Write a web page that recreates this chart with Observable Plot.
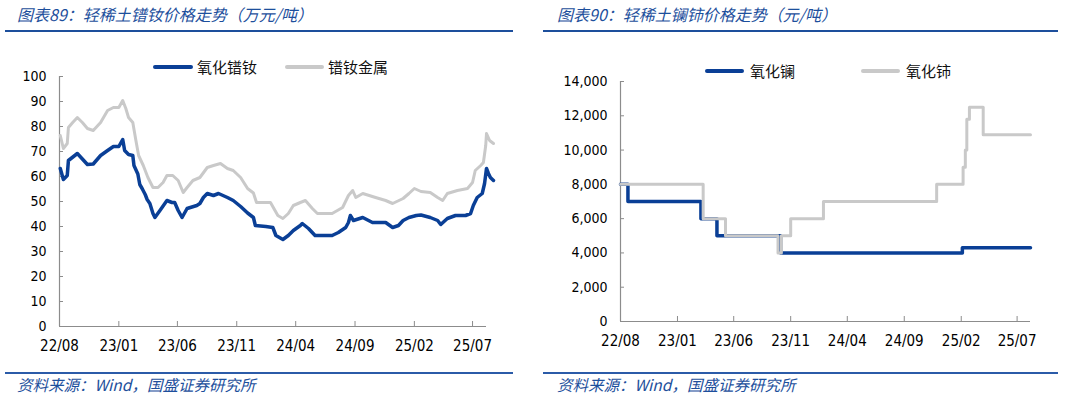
<!DOCTYPE html>
<html>
<head>
<meta charset="utf-8">
<script src="https://cdn.jsdelivr.net/npm/d3@7"></script>
<script src="https://cdn.jsdelivr.net/npm/@observablehq/plot@0.6"></script>
<style>
  html, body { margin: 0; padding: 0; background: #fff; }
  #page { position: relative; width: 1065px; height: 398px; overflow: hidden; background: #fff; }
  .title, .source { position: absolute; font-family: "Noto Sans CJK SC", sans-serif; font-style: italic; color: #1d4f9c; white-space: nowrap; line-height: 1; }
  .title { font-size: 16px; top: 6px; }
  .source { font-size: 15.5px; top: 377px; }
  .rule { position: absolute; background: #1d4f9c; }
  .plot { position: absolute; top: 40px; }
  .leg { position: absolute; font-family: "Noto Sans CJK SC", sans-serif; font-size: 15px; color: #111; white-space: nowrap; line-height: 1; }
  .sw { position: absolute; height: 4px; border-radius: 2px; }
</style>
</head>
<body>
<div id="page"></div>
<script>
// ---------- Data: left chart (万元/吨) ----------
const oxideDates = ["2022-08-03","2022-08-11","2022-08-21","2022-08-24","2022-09-16","2022-09-29","2022-10-12","2022-10-27","2022-11-15","2022-12-03","2022-12-18","2023-01-01","2023-01-11","2023-01-16","2023-01-26","2023-02-06","2023-02-09","2023-02-19","2023-02-24","2023-03-02","2023-03-10","2023-03-15","2023-03-22","2023-03-30","2023-04-04","2023-04-17","2023-05-05","2023-05-18","2023-05-25","2023-06-03","2023-06-13","2023-06-26","2023-07-21","2023-07-29","2023-08-07","2023-08-17","2023-09-02","2023-09-15","2023-10-08","2023-10-23","2023-11-11","2023-11-29","2023-12-14","2023-12-19","2024-01-15","2024-02-02","2024-02-10","2024-02-28","2024-03-13","2024-03-26","2024-04-13","2024-04-18","2024-05-04","2024-05-21","2024-06-16","2024-07-04","2024-07-20","2024-08-08","2024-08-15","2024-08-20","2024-08-28","2024-09-21","2024-10-16","2024-11-19","2024-12-07","2024-12-22","2025-01-03","2025-01-18","2025-02-06","2025-02-18","2025-03-14","2025-04-02","2025-04-10","2025-04-27","2025-05-18","2025-06-13","2025-06-26","2025-07-03","2025-07-13","2025-07-26","2025-08-01","2025-08-06","2025-08-11","2025-08-16","2025-08-24"];
const oxideValues = [63.2,58.8,60.4,66.4,69.2,67,64.8,65,68.4,70.4,72,72,74.8,70.4,68.8,68.4,64.4,61,56.8,55.2,52.8,50.8,49.2,45.2,43.6,46.4,50.4,49.6,49.6,46.4,43.6,47.2,48.4,49.2,51.6,53.2,52.4,53.2,51.6,50.4,48,45.4,43.6,40.4,40,39.6,36.4,34.8,36.4,38.4,40.4,41.2,39.2,36.4,36.4,36.4,37.6,39.6,41.6,44.4,42.4,43.6,41.6,41.6,39.6,40.4,42.4,43.6,44.4,44.6,43.6,42.4,40.8,43.2,44.4,44.4,45.2,48.4,51.6,53.2,57.2,63.2,61.2,59.6,58.4];

const metalDates = ["2022-08-03","2022-08-11","2022-08-21","2022-08-24","2022-09-04","2022-09-16","2022-09-29","2022-10-12","2022-10-27","2022-11-15","2022-12-03","2022-12-18","2023-01-01","2023-01-11","2023-01-19","2023-01-26","2023-02-06","2023-02-14","2023-02-21","2023-03-05","2023-03-17","2023-03-30","2023-04-12","2023-04-25","2023-05-05","2023-05-20","2023-06-03","2023-06-16","2023-06-26","2023-07-11","2023-07-29","2023-08-17","2023-09-02","2023-09-20","2023-10-08","2023-10-23","2023-11-11","2023-11-29","2023-12-14","2023-12-22","2024-01-27","2024-02-15","2024-02-28","2024-03-13","2024-03-26","2024-04-13","2024-04-26","2024-05-14","2024-05-27","2024-07-04","2024-07-31","2024-08-15","2024-08-26","2024-09-03","2024-09-21","2024-10-24","2024-11-19","2024-12-07","2025-01-03","2025-01-18","2025-02-01","2025-02-18","2025-03-14","2025-04-02","2025-04-15","2025-04-27","2025-05-23","2025-06-18","2025-07-01","2025-07-08","2025-07-22","2025-07-29","2025-08-04","2025-08-06","2025-08-14","2025-08-24"];
const metalValues = [76.4,71.2,73.2,79.6,81.6,83.6,81.6,79.2,78.4,81.6,86.4,87.6,87.6,90.4,87.2,83.6,81.6,74.4,68.4,64.4,59.6,55.6,55.6,57.6,60.4,60.4,58.4,53.6,55.6,58.4,59.6,63.6,64.4,65.2,63.2,62.4,59.6,55.2,53.4,49.6,49.6,44.4,43.2,45.2,48.4,49.6,50.4,47.2,45.2,45.2,47.6,52.4,54.4,51.6,53.2,51.6,50.4,49.2,51.2,53.2,55.2,54,53.6,51.6,50.4,53.2,54.4,55.2,57.6,62.4,64.4,65.6,72.4,77.2,74.4,73.2];

const leftYTicks = [0,10,20,30,40,50,60,70,80,90,100];
const xTickDates = ["2022-08-01","2023-01-01","2023-06-01","2023-11-01","2024-04-01","2024-09-01","2025-02-01","2025-07-01"];

// ---------- Data: right chart (元/吨) ----------
const lanthanumDates = ["2022-08-01","2022-08-21","2023-03-05","2023-04-17","2023-10-05","2025-02-04","2025-08-06"];
const lanthanumValues = [8000,7000,6000,5000,4000,4300,4300];
const ceriumDates = ["2022-08-01","2023-03-11","2023-05-10","2023-09-28","2023-10-07","2023-11-01","2024-01-28","2024-11-27","2025-02-06","2025-02-12","2025-02-16","2025-02-23","2025-04-01","2025-08-06"];
const ceriumValues = [8000,6000,5000,4000,5000,6000,7000,8000,9000,10000,11800,12500,10900,10900];
const rightYTicks = [0,2000,4000,6000,8000,10000,12000,14000];

const names = {
  leftTitle: "图表89：轻稀土镨钕价格走势（万元/吨）",
  rightTitle: "图表90：轻稀土镧铈价格走势（元/吨）",
  source: "资料来源：Wind，国盛证券研究所",
  oxide: "氧化镨钕", metal: "镨钕金属", la: "氧化镧", ce: "氧化铈"
};

const BLUE = "#0a3f96", GRAY = "#c9c9c9", AXIS = "#8c8c8c";
const parse = d3.utcParse("%Y-%m-%d");
const fmtX = d3.utcFormat("%y/%m");
const page = document.getElementById("page");

function el(cls, style, text) {
  const d = document.createElement("div");
  d.className = cls;
  Object.assign(d.style, style);
  if (text != null) d.textContent = text;
  page.appendChild(d);
  return d;
}

function makeChart({series, yTicks, yFmt, yMax, xEnd, curve, left, marginLeft, marginRight, marginTop, marginBottom}) {
  const x0 = parse("2022-08-01");
  const rows = [];
  series.forEach(s => s.dates.forEach((d, i) => rows.push({date: parse(d), value: s.values[i], key: s.key})));
  const plot = Plot.plot({
    width: 530, height: 330,
    marginLeft, marginRight, marginTop, marginBottom,
    style: {fontFamily: "'DejaVu Sans Condensed', 'DejaVu Sans', sans-serif", fontSize: "14px", color: "#000", background: "transparent", overflow: "visible"},
    x: {type: "utc", domain: [x0, parse(xEnd)], label: null},
    y: {domain: [0, yMax], label: null},
    marks: [
      Plot.axisY({ticks: yTicks, tickSize: 0, tickPadding: 13, tickFormat: yFmt, fontSize: 14, label: null}),
      Plot.axisY({ticks: yTicks, tickSize: -4, tickFormat: () => "", stroke: AXIS, label: null}),
      Plot.axisX({ticks: xTickDates.map(parse), tickSize: 0, tickPadding: 14, tickFormat: fmtX, fontSize: 15, label: null}),
      Plot.axisX({ticks: xTickDates.map(parse), tickSize: -5, tickFormat: () => "", stroke: AXIS, label: null}),
      Plot.ruleX([x0], {stroke: AXIS, strokeWidth: 1.2}),
      Plot.ruleY([0], {stroke: AXIS, strokeWidth: 1.2}),
      ...series.map(s => Plot.line(rows.filter(r => r.key === s.key), {
        x: "date", y: "value", stroke: s.color, strokeWidth: s.width, curve,
        strokeLinejoin: "round", strokeLinecap: "round"
      }))
    ]
  });
  plot.classList.add("plot");
  plot.style.left = left + "px";
  page.appendChild(plot);
}

// Left chart
makeChart({
  series: [
    {key: names.metal, dates: metalDates, values: metalValues, color: GRAY, width: 3},
    {key: names.oxide, dates: oxideDates, values: oxideValues, color: BLUE, width: 3.5}
  ],
  yTicks: leftYTicks, yFmt: d3.format("d"), yMax: 100, xEnd: "2025-08-06", curve: "linear",
  left: 0, marginLeft: 59, marginRight: 44, marginTop: 36, marginBottom: 44
});

// Right chart (cerium drawn over lanthanum, as in the reference)
makeChart({
  series: [
    {key: names.la, dates: lanthanumDates, values: lanthanumValues, color: BLUE, width: 3.5},
    {key: names.ce, dates: ceriumDates, values: ceriumValues, color: GRAY, width: 3}
  ],
  yTicks: rightYTicks, yFmt: d3.format(","), yMax: 14000, xEnd: "2025-08-06", curve: "step-after",
  left: 535, marginLeft: 85, marginRight: 35, marginTop: 41, marginBottom: 49
});

// Titles, rules, sources
el("title", {left: "17px"}, names.leftTitle);
el("title", {left: "557px"}, names.rightTitle);
el("rule", {left: "5px", width: "508px", top: "30px", height: "2px"});
el("rule", {left: "543px", width: "515px", top: "30px", height: "2px"});
el("rule", {left: "5px", width: "508px", top: "372px", height: "1.5px", background: "#2b5ba8"});
el("rule", {left: "543px", width: "515px", top: "372px", height: "1.5px", background: "#2b5ba8"});
el("source", {left: "17px"}, names.source);
el("source", {left: "557px"}, names.source);

// Legends
function legend(x1, x2, y, color, tx, text) {
  el("sw", {left: x1 + "px", width: (x2 - x1) + "px", top: (y - 2) + "px", background: color});
  el("leg", {left: tx + "px", top: (y - 8) + "px"}, text);
}
legend(153, 193, 67, BLUE, 197, names.oxide);
legend(285, 324, 67, GRAY, 328, names.metal);
legend(705, 744, 71, BLUE, 750, names.la);
legend(861, 900, 71, GRAY, 906, names.ce);
</script>
</body>
</html>
